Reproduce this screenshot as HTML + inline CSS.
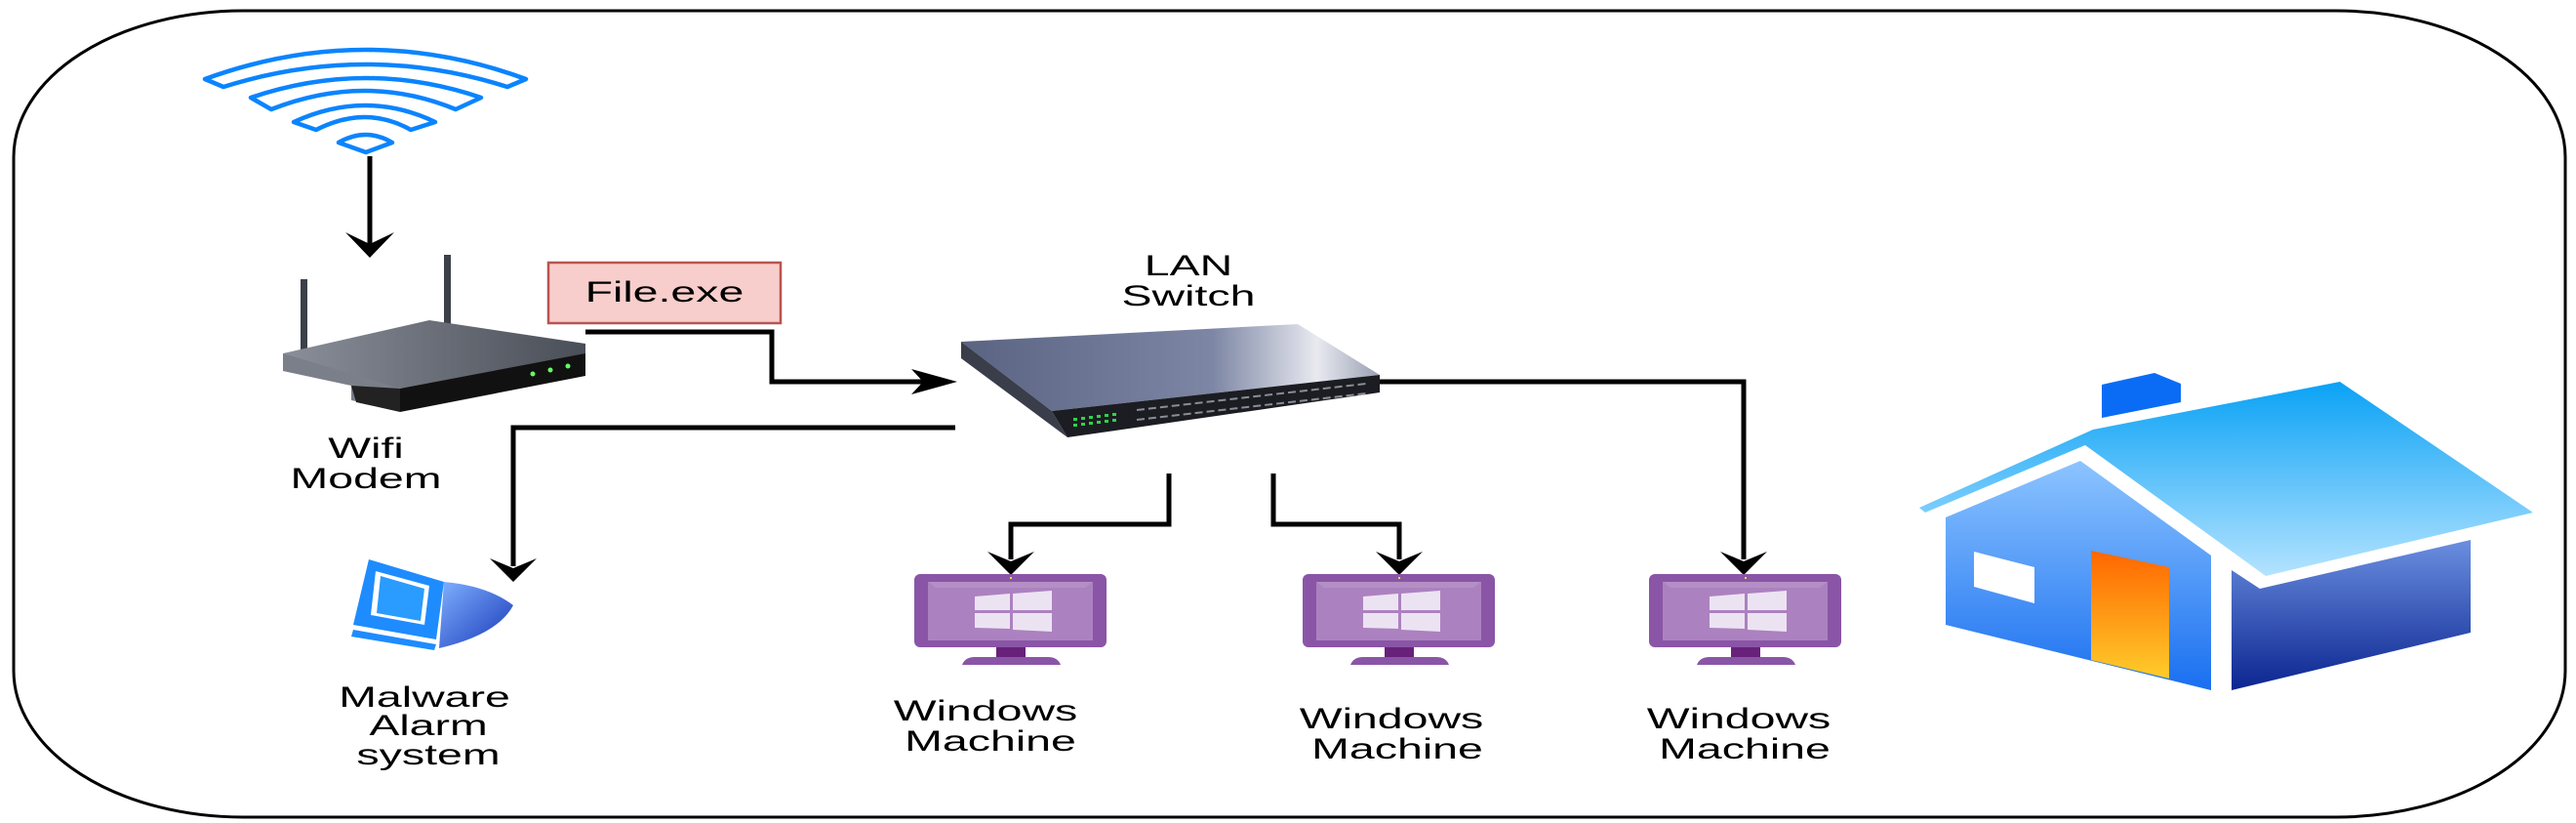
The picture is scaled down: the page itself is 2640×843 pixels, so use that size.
<!DOCTYPE html>
<html><head><meta charset="utf-8"><style>
html,body{margin:0;padding:0;background:#fff;}
svg{display:block;}
text{font-family:"Liberation Sans",sans-serif;font-size:30px;fill:#000;}
</style></head><body>
<svg width="2640" height="843" viewBox="0 0 2640 843" xmlns="http://www.w3.org/2000/svg">
<defs>
<linearGradient id="roof" x1="0" y1="0" x2="0" y2="1"><stop offset="0" stop-color="#0aa2f5"/><stop offset="1" stop-color="#b4e3ff"/></linearGradient>
<linearGradient id="lwall" x1="0" y1="0" x2="0" y2="1"><stop offset="0" stop-color="#8cc4ff"/><stop offset="1" stop-color="#1a6ff0"/></linearGradient>
<linearGradient id="rwall" x1="0" y1="0" x2="0" y2="1"><stop offset="0" stop-color="#6b8fe0"/><stop offset="1" stop-color="#0b2590"/></linearGradient>
<linearGradient id="door" x1="0" y1="0" x2="0" y2="1"><stop offset="0" stop-color="#ff6600"/><stop offset="1" stop-color="#ffcc2a"/></linearGradient>
<linearGradient id="swtop" x1="0" y1="0" x2="1" y2="0"><stop offset="0" stop-color="#5a6382"/><stop offset="0.6" stop-color="#7d86a4"/><stop offset="0.85" stop-color="#e8eaf0"/><stop offset="1" stop-color="#9aa0b3"/></linearGradient>
<linearGradient id="dome" x1="0" y1="0" x2="1" y2="1"><stop offset="0" stop-color="#7fb0ff"/><stop offset="1" stop-color="#1838b8"/></linearGradient>
<linearGradient id="rtop" x1="0" y1="0" x2="1" y2="0"><stop offset="0" stop-color="#8a8f99"/><stop offset="1" stop-color="#4a4e57"/></linearGradient>
<g id="mon">
<rect x="0" y="0" width="197" height="75" rx="6" fill="#8a55a6"/>
<rect x="14" y="8" width="169" height="60" fill="#b48fc6"/>
<path d="M14 8 L14 68 L183 68 L183 8 L175 14 L22 14 Z" fill="#a374b9" opacity="0.5"/>
<rect x="98" y="3" width="2" height="2" fill="#d7e84a"/>
<path d="M62 23 L98 20 L98 37 L62 37 Z M101 20 L141 17 L141 37 L101 37 Z M62 40 L98 40 L98 56 L62 55 Z M101 40 L141 40 L141 59 L101 57 Z" fill="#ece3f2"/>
<rect x="84" y="75" width="30" height="10" fill="#68217a"/>
<path d="M49 93 Q52 85 62 85 L137 85 Q147 85 150 93 Z" fill="#8a55a6"/>
</g>
</defs>

<!-- container -->
<rect x="14" y="11" width="2615" height="826" rx="235" ry="150" fill="#fff" stroke="#000" stroke-width="3"/>

<!-- wifi -->
<g fill="#fff" stroke="#0a84ff" stroke-width="4.5" stroke-linejoin="round">
<path d="M210 81 Q375 21 539 81 L520 89 Q375 43 229 89 Z"/>
<path d="M257 100 Q375 60 493 100 L467 112 Q375 74 278 112 Z"/>
<path d="M301 125 Q375 91 446 125 L421 133 Q375 107 324 133 Z"/>
<path d="M347 146 Q375 130 402 146 L375 156 Z"/>
</g>

<!-- connectors -->
<g fill="none" stroke="#000" stroke-width="5">
<path d="M379 160 L379 250"/>
<path d="M600 340 L791 340 L791 391 L965 391"/>
<path d="M979 438 L526 438 L526 580"/>
<path d="M1198 485 L1198 537 L1036 537 L1036 573"/>
<path d="M1305 485 L1305 537 L1434 537 L1434 573"/>
<path d="M1413 391 L1787 391 L1787 573"/>
</g>
<g fill="#000">
<path d="M379 264 L354 238 L379 250 L404 238 Z"/>
<path d="M981 391 L934 378 L946 391 L934 404 Z"/>
<path d="M526 596 L502 572 L526 582 L550 572 Z"/>
<path d="M1036 589 L1012 565 L1036 575 L1060 565 Z"/>
<path d="M1434 589 L1410 565 L1434 575 L1458 565 Z"/>
<path d="M1787 589 L1763 565 L1787 575 L1811 565 Z"/>
</g>

<!-- router -->
<g>
<rect x="308" y="286" width="7" height="80" fill="#3c4048"/>
<rect x="455" y="261" width="7" height="90" fill="#3c4048"/>
<path d="M290 362 L440 328 L600 352 L600 370 L410 398 L290 375 Z" fill="url(#rtop)"/>
<path d="M290 362 L290 380 L360 395 L360 410 L410 420 L410 398 Z" fill="#7a7f89"/>
<path d="M410 398 L600 362 L600 385 L410 422 Z" fill="#111"/>
<path d="M360 395 L410 398 L410 422 L365 412 Z" fill="#222"/>
<circle cx="546" cy="383" r="2.5" fill="#6f6"/><circle cx="564" cy="379" r="2.5" fill="#6f6"/><circle cx="582" cy="375" r="2.5" fill="#6f6"/>
</g>

<!-- file.exe -->
<rect x="562" y="269" width="238" height="62" fill="#f8cecc" stroke="#b85450" stroke-width="2.5"/>
<text transform="translate(681,309) scale(1.55,1)" text-anchor="middle">File.exe</text>

<!-- switch -->
<g>
<path d="M985 350 L1330 332 L1414 384 L1078 421 Z" fill="url(#swtop)"/>
<path d="M985 350 L985 367 L1094 448 L1078 421 Z" fill="#3a3e4a"/>
<path d="M1078 421 L1414 384 L1414 402 L1094 448 Z" fill="#1c1d22"/>
<g fill="#2fd24a">
<rect x="1100" y="428" width="4" height="3"/><rect x="1108" y="427" width="4" height="3"/><rect x="1116" y="426" width="4" height="3"/><rect x="1124" y="425" width="4" height="3"/><rect x="1132" y="424" width="4" height="3"/><rect x="1140" y="423" width="4" height="3"/>
<rect x="1100" y="434" width="4" height="3"/><rect x="1108" y="433" width="4" height="3"/><rect x="1116" y="432" width="4" height="3"/><rect x="1124" y="431" width="4" height="3"/><rect x="1132" y="430" width="4" height="3"/><rect x="1140" y="429" width="4" height="3"/>
</g>
<path d="M1165 420 L1400 393 M1165 430 L1400 403" stroke="#8a8d96" stroke-width="2" stroke-dasharray="8 4"/>
</g>
<text transform="translate(1218,282) scale(1.55,1)" text-anchor="middle">LAN</text>
<text transform="translate(1218,313) scale(1.55,1)" text-anchor="middle">Switch</text>

<text transform="translate(375,469) scale(1.55,1)" text-anchor="middle">Wifi</text>
<text transform="translate(375,500) scale(1.55,1)" text-anchor="middle">Modem</text>

<!-- alarm icon -->
<g>
<path d="M378 573 L455 596 L447 655 L362 640 Z" fill="#1e8cff"/>
<path d="M385 585 L440 600 L435 640 L380 630 Z" fill="#fff"/>
<path d="M390 590 L435 603 L431 636 L386 628 Z" fill="#2a9bff"/>
<path d="M455 596 Q500 600 526 620 Q510 650 450 664 Z" fill="url(#dome)"/>
<path d="M362 645 L447 660 L445 666 L360 652 Z" fill="#1e8cff"/>
</g>
<text transform="translate(435,724) scale(1.55,1)" text-anchor="middle">Malware</text>
<text transform="translate(439,753) scale(1.55,1)" text-anchor="middle">Alarm</text>
<text transform="translate(439,783) scale(1.55,1)" text-anchor="middle">system</text>

<!-- monitors -->
<use href="#mon" x="937" y="588"/>
<use href="#mon" x="1335" y="588"/>
<use href="#mon" x="1690" y="588"/>
<text transform="translate(1010,738) scale(1.55,1)" text-anchor="middle">Windows</text>
<text transform="translate(1015,769) scale(1.55,1)" text-anchor="middle">Machine</text>
<text transform="translate(1426,746) scale(1.55,1)" text-anchor="middle">Windows</text>
<text transform="translate(1432,777) scale(1.55,1)" text-anchor="middle">Machine</text>
<text transform="translate(1782,746) scale(1.55,1)" text-anchor="middle">Windows</text>
<text transform="translate(1788,777) scale(1.55,1)" text-anchor="middle">Machine</text>

<!-- house -->
<g>
<path d="M2154 394 L2208 382 L2235 393 L2235 412 L2154 428 Z" fill="#0a6cf5"/>
<path d="M2145 440 L2398 391 L2596 525 L2322 590 L2137 456 L1973 525 L1967 520 Z" fill="url(#roof)"/>
<path d="M2132 472 L2266 569 L2266 707 L1994 640 L1994 530 Z" fill="url(#lwall)"/>
<path d="M2287 584 L2316 603 L2532 553 L2532 648 L2287 707 Z" fill="url(#rwall)"/>
<path d="M2023 565 L2085 581 L2085 618 L2023 601 Z" fill="#fff"/>
<path d="M2143 564 L2223 581 L2223 695 L2143 676 Z" fill="url(#door)"/>
</g>
</svg>
</body></html>
